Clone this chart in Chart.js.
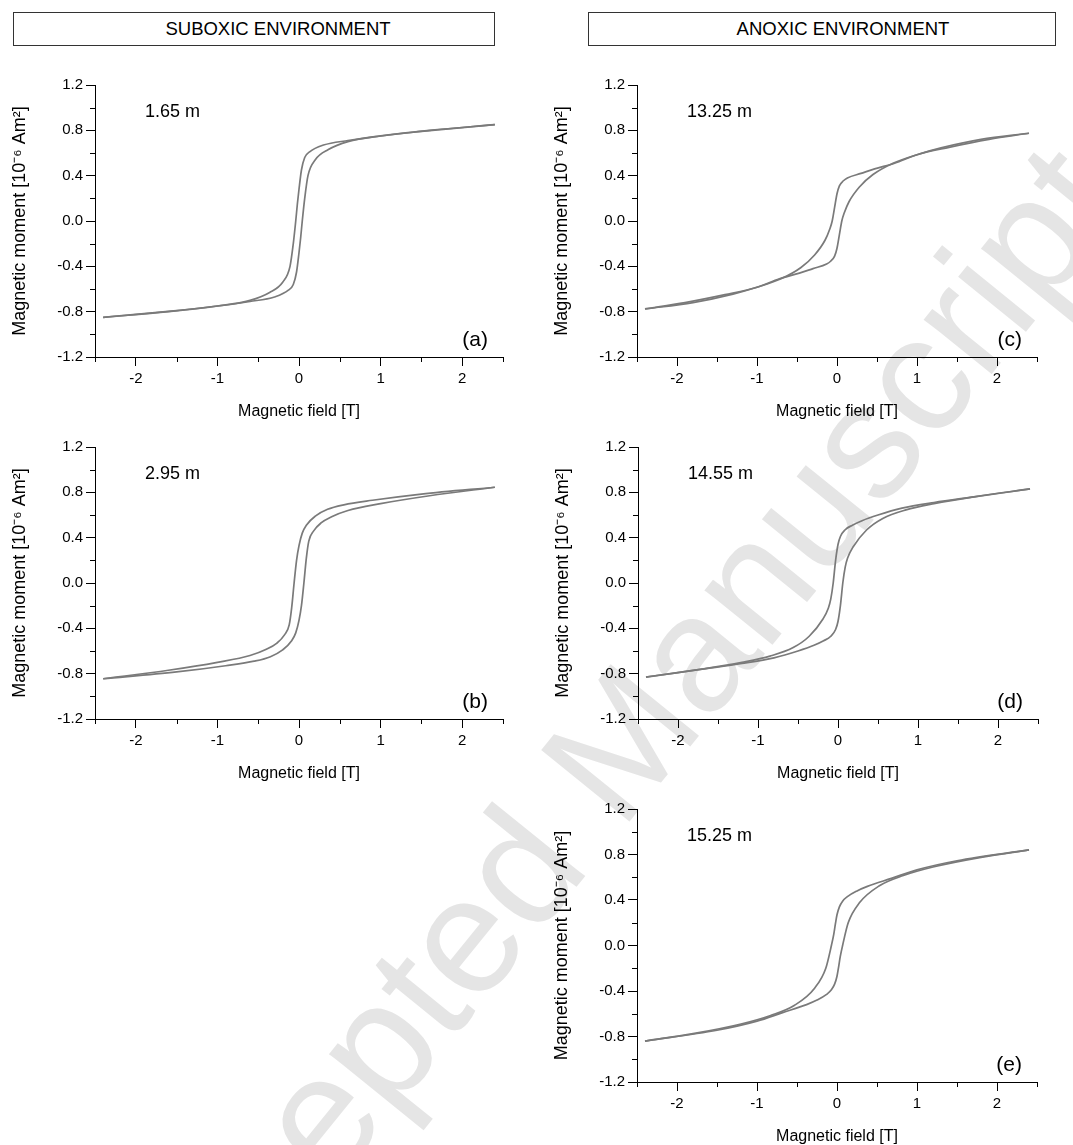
<!DOCTYPE html>
<html>
<head>
<meta charset="utf-8">
<script src="https://cdn.jsdelivr.net/npm/chart.js@4.4.0/dist/chart.umd.min.js"></script>
<style>
  body { margin: 0; background: #fff; width: 1073px; height: 1145px; position: relative; overflow: hidden;
         font-family: "Liberation Sans", Arial, sans-serif; }
  .hdr { position: absolute; top: 12px; height: 34px; border: 1px solid #333; box-sizing: border-box; }
  .hdr span { position: absolute; top: 50%; transform: translate(-50%, -50%); font-size: 18.5px; white-space: nowrap; color: #000; }
  .wm { position: absolute; left: 600px; top: 768px; transform: translate(-50%, -50%) rotate(-51deg);
        font-size: 165px; color: #e5e5e5; white-space: nowrap; z-index: 0; }
  canvas { position: absolute; z-index: 1; }
</style>
</head>
<body>

<div class="wm">Accepted Manuscript</div>

<div class="hdr" style="left:13px; width:482px;"><span style="left:264px;">SUBOXIC ENVIRONMENT</span></div>
<div class="hdr" style="left:588px; width:468px;"><span style="left:254px;">ANOXIC ENVIRONMENT</span></div>

<canvas id="pa" width="533" height="362" style="left:0px; top:65px;"></canvas>
<canvas id="pb" width="533" height="362" style="left:0px; top:427px;"></canvas>
<canvas id="pc" width="525" height="362" style="left:542px; top:65px;"></canvas>
<canvas id="pd" width="525" height="362" style="left:543px; top:427px;"></canvas>
<canvas id="pe" width="525" height="363" style="left:542px; top:789px;"></canvas>

<script>
// axis ticks
const xTicks = [-2, -1, 0, 1, 2];
const yTicks = [-1.2, -0.8, -0.4, 0.0, 0.4, 0.8, 1.2];
const xMinor = [-2.5, -1.5, -0.5, 0.5, 1.5, 2.5];
const yMinor = [-1.0, -0.6, -0.2, 0.2, 0.6, 1.0];

// (a) 1.65 m - upper (descending field) and lower (ascending field) branches
const aUpX = [-2.4, -1.5, -1.0, -0.6, -0.36, -0.2, -0.11, -0.07, -0.04, -0.02, 0.0, 0.03, 0.07, 0.13, 0.3, 0.6, 1.1, 1.6, 2.4];
const aUpY = [-0.85, -0.79, -0.75, -0.70, -0.63, -0.54, -0.40, -0.2, 0.0, 0.15, 0.28, 0.45, 0.56, 0.61, 0.67, 0.71, 0.76, 0.80, 0.85];
const aLoX = [-2.4, -1.6, -1.1, -0.6, -0.3, -0.13, -0.07, -0.03, 0.0, 0.02, 0.04, 0.07, 0.11, 0.2, 0.36, 0.6, 1.0, 1.5, 2.4];
const aLoY = [-0.85, -0.80, -0.76, -0.71, -0.67, -0.61, -0.56, -0.45, -0.28, -0.15, 0.0, 0.2, 0.40, 0.54, 0.63, 0.70, 0.75, 0.79, 0.85];

// (b) 2.95 m
const bUpX = [-2.4, -1.6, -1.0, -0.6, -0.4, -0.27, -0.18, -0.12, -0.09, -0.06, -0.03, 0.0, 0.04, 0.09, 0.2, 0.35, 0.55, 0.9, 1.5, 2.4];
const bUpY = [-0.845, -0.77, -0.70, -0.64, -0.585, -0.53, -0.46, -0.37, -0.22, 0.0, 0.2, 0.33, 0.44, 0.51, 0.59, 0.65, 0.69, 0.73, 0.785, 0.845];
const bLoX = [-2.4, -1.5, -0.9, -0.55, -0.35, -0.2, -0.09, -0.04, 0.0, 0.03, 0.06, 0.09, 0.12, 0.18, 0.27, 0.4, 0.6, 1.0, 1.6, 2.4];
const bLoY = [-0.845, -0.785, -0.73, -0.69, -0.65, -0.59, -0.51, -0.44, -0.33, -0.2, 0.0, 0.22, 0.37, 0.46, 0.53, 0.585, 0.64, 0.70, 0.77, 0.845];

// (c) 13.25 m
const cUpX = [-2.4, -1.8, -1.3, -1.0, -0.7, -0.45, -0.28, -0.15, -0.09, -0.06, -0.03, 0.0, 0.03, 0.08, 0.13, 0.3, 0.47, 0.72, 1.0, 1.4, 1.9, 2.4];
const cUpY = [-0.776, -0.72, -0.645, -0.585, -0.51, -0.41, -0.30, -0.17, -0.07, 0.0, 0.12, 0.24, 0.31, 0.355, 0.38, 0.42, 0.46, 0.51, 0.585, 0.65, 0.72, 0.774];
const cLoX = [-2.4, -1.9, -1.4, -1.0, -0.72, -0.47, -0.3, -0.13, -0.08, -0.03, 0.0, 0.03, 0.06, 0.09, 0.15, 0.28, 0.45, 0.7, 1.0, 1.3, 1.8, 2.4];
const cLoY = [-0.776, -0.72, -0.65, -0.585, -0.51, -0.46, -0.42, -0.38, -0.355, -0.31, -0.24, -0.12, 0.0, 0.07, 0.17, 0.30, 0.41, 0.51, 0.585, 0.645, 0.72, 0.774];

// (d) 14.55 m
const dUpX = [-2.4, -1.7, -1.2, -0.85, -0.56, -0.36, -0.19, -0.12, -0.09, -0.06, -0.03, 0.0, 0.03, 0.09, 0.18, 0.3, 0.5, 0.8, 1.2, 1.7, 2.4];
const dUpY = [-0.83, -0.76, -0.70, -0.645, -0.57, -0.47, -0.32, -0.22, -0.14, 0.0, 0.2, 0.34, 0.41, 0.47, 0.51, 0.55, 0.60, 0.66, 0.71, 0.76, 0.83];
const dLoX = [-2.4, -1.7, -1.2, -0.8, -0.5, -0.3, -0.18, -0.09, -0.03, 0.0, 0.03, 0.06, 0.09, 0.12, 0.19, 0.36, 0.56, 0.85, 1.2, 1.7, 2.4];
const dLoY = [-0.83, -0.76, -0.71, -0.66, -0.60, -0.55, -0.51, -0.47, -0.41, -0.34, -0.2, 0.0, 0.14, 0.22, 0.32, 0.47, 0.57, 0.645, 0.70, 0.76, 0.83];

// (e) 15.25 m
const eUpX = [-2.4, -1.8, -1.2, -0.83, -0.53, -0.28, -0.14, -0.07, -0.04, -0.02, 0.0, 0.03, 0.07, 0.13, 0.25, 0.38, 0.68, 1.0, 1.5, 2.4];
const eUpY = [-0.84, -0.775, -0.69, -0.615, -0.525, -0.375, -0.2, 0.0, 0.1, 0.19, 0.27, 0.34, 0.39, 0.43, 0.48, 0.52, 0.59, 0.665, 0.745, 0.84];
const eLoX = [-2.4, -1.5, -1.0, -0.68, -0.38, -0.25, -0.13, -0.07, -0.03, 0.0, 0.02, 0.04, 0.07, 0.14, 0.28, 0.53, 0.83, 1.2, 1.8, 2.4];
const eLoY = [-0.84, -0.745, -0.665, -0.59, -0.52, -0.48, -0.43, -0.39, -0.34, -0.27, -0.19, -0.1, 0.0, 0.2, 0.375, 0.525, 0.615, 0.69, 0.775, 0.84];

const FONT = '"Liberation Sans", Arial, sans-serif';
const LINE = '#7a7a7a';

function pts(xs, ys) {
  return xs.map((x, i) => ({ x: x, y: ys[i] }));
}

// minor ticks, depth label and panel letter
const decor = {
  id: 'decor',
  afterDraw(chart, args, opts) {
    const { ctx, chartArea: ca, scales: { x, y } } = chart;
    ctx.save();
    ctx.strokeStyle = '#000';
    ctx.lineWidth = 1;
    ctx.beginPath();
    xMinor.forEach(v => {
      const px = Math.round(x.getPixelForValue(v)) + 0.5;
      ctx.moveTo(px, ca.bottom);
      ctx.lineTo(px, ca.bottom + 5);
    });
    yMinor.forEach(v => {
      const py = Math.round(y.getPixelForValue(v)) + 0.5;
      ctx.moveTo(ca.left, py);
      ctx.lineTo(ca.left - 5, py);
    });
    ctx.stroke();
    ctx.fillStyle = '#000';
    ctx.textBaseline = 'middle';
    ctx.font = '18px ' + FONT;
    ctx.textAlign = 'left';
    ctx.fillText(opts.depth, ca.left + 50, ca.top + 27);
    ctx.font = '21px ' + FONT;
    ctx.textAlign = 'right';
    ctx.fillText(opts.tag, ca.right - 15, ca.bottom - 17);
    ctx.restore();
  }
};

function makePanel(id, depth, tag, upX, upY, loX, loY) {
  const line = { borderColor: LINE, borderWidth: 1.7, pointRadius: 0, showLine: true,
                 cubicInterpolationMode: 'monotone', fill: false };
  new Chart(document.getElementById(id), {
    type: 'scatter',
    data: {
      datasets: [
        Object.assign({ data: pts(upX, upY) }, line),
        Object.assign({ data: pts(loX, loY) }, line)
      ]
    },
    options: {
      responsive: false,
      animation: false,
      layout: { padding: { top: 20, right: 30, left: 0, bottom: 0 } },
      plugins: {
        legend: { display: false },
        tooltip: { enabled: false },
        decor: { depth: depth, tag: tag }
      },
      scales: {
        x: {
          type: 'linear', min: -2.5, max: 2.5,
          afterBuildTicks: s => { s.ticks = xTicks.map(v => ({ value: v })); },
          afterFit: s => { s.height = 70; },
          grid: { drawOnChartArea: false, tickLength: 9, tickColor: '#000', color: '#000' },
          border: { color: '#000', width: 1 },
          ticks: { color: '#000', font: { size: 15, family: FONT }, padding: 4, maxRotation: 0,
                   callback: v => String(v) },
          title: { display: true, text: 'Magnetic field [T]', color: '#000',
                   font: { size: 16, family: FONT }, padding: { top: 0, bottom: 6 } }
        },
        y: {
          type: 'linear', min: -1.2, max: 1.2,
          afterBuildTicks: s => { s.ticks = yTicks.map(v => ({ value: v })); },
          afterFit: s => { s.width = 95; },
          grid: { drawOnChartArea: false, tickLength: 9, tickColor: '#000', color: '#000' },
          border: { color: '#000', width: 1 },
          ticks: { color: '#000', font: { size: 15, family: FONT }, padding: 3,
                   callback: v => Math.abs(v) < 1e-9 ? '0.0' : v.toFixed(1) },
          title: { display: true, text: 'Magnetic moment [10\u207B\u2076 Am\u00B2]', color: '#000',
                   font: { size: 18, family: FONT }, padding: { top: 9, bottom: 0 } }
        }
      }
    },
    plugins: [decor]
  });
}

makePanel('pa', '1.65 m', '(a)', aUpX, aUpY, aLoX, aLoY);
makePanel('pb', '2.95 m', '(b)', bUpX, bUpY, bLoX, bLoY);
makePanel('pc', '13.25 m', '(c)', cUpX, cUpY, cLoX, cLoY);
makePanel('pd', '14.55 m', '(d)', dUpX, dUpY, dLoX, dLoY);
makePanel('pe', '15.25 m', '(e)', eUpX, eUpY, eLoX, eLoY);
</script>
</body>
</html>
